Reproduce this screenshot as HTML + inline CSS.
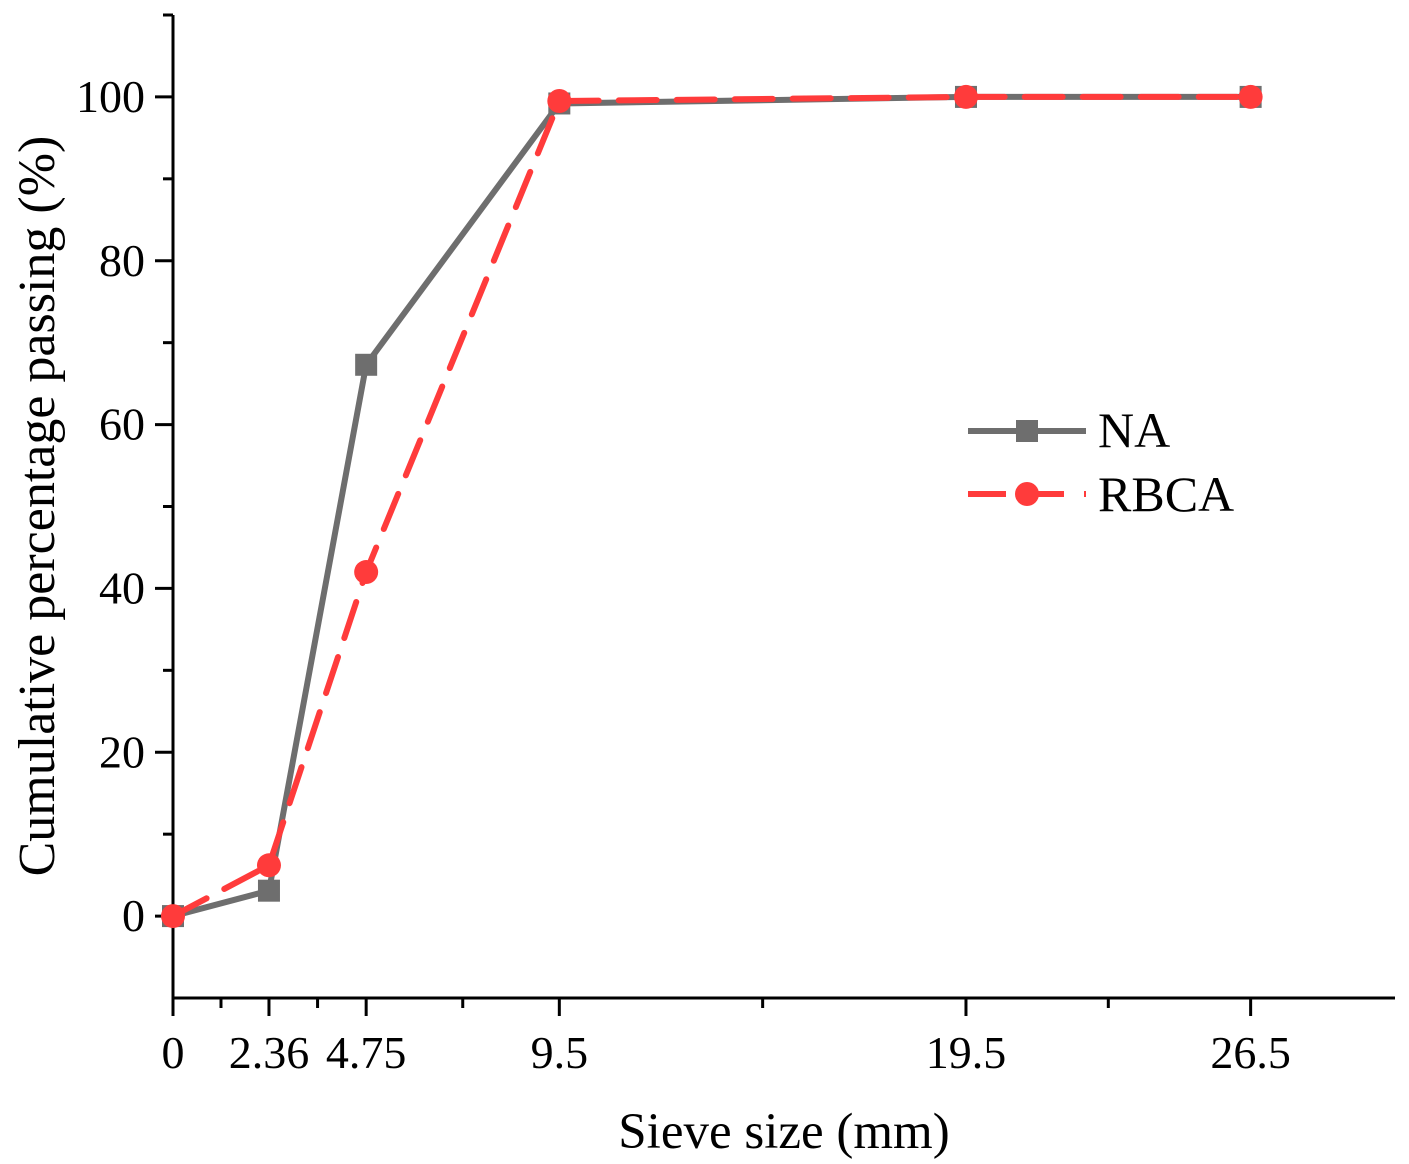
<!DOCTYPE html>
<html><head><meta charset="utf-8"><style>
html,body{margin:0;padding:0;background:#fff;}
svg{display:block;font-family:"Liberation Serif",serif;}
</style></head><body>
<svg id="chart" width="1409" height="1164">
<g id="axes"></g>
<g id="series"></g>
<g>
<g>
<line x1="968" y1="431" x2="1086" y2="431" stroke="#6e6e6e" stroke-width="6"/>
<rect x="1016" y="420" width="22" height="22" fill="#6e6e6e"/>
<text x="1098" y="447" font-size="50">NA</text></g>
<g>
<line x1="968" y1="494" x2="1086" y2="494" stroke="#ff3b3b" stroke-width="6" stroke-dasharray="38,20"/>
<circle cx="1027" cy="494" r="12" fill="#ff3b3b"/>
<text x="1098" y="511" font-size="50">RBCA</text></g>
</g>
<text x="784" y="1148" font-size="51" text-anchor="middle">Sieve size (mm)</text>
<text transform="translate(54,506) rotate(-90)" font-size="52" text-anchor="middle">Cumulative percentage passing (%)</text>
</svg>
<script>
const xTicks=[0,2.36,4.75,9.5,19.5,26.5];
const xTickLabels=["0","2.36","4.75","9.5","19.5","26.5"];
const yTicks=[0,20,40,60,80,100];
const sieve=[0,2.36,4.75,9.5,19.5,26.5];
const naValues=[0,3.1,67.3,99.2,100,100];
const rbcaValues=[0,6.2,42,99.5,100,100];
const NS="http://www.w3.org/2000/svg";
const X0=173,X1=1395,Y0=998,Y1=15;
const xMin=0,xMax=30.05,yMin=-10,yMax=110;
function xs(v){return X0+(v-xMin)/(xMax-xMin)*(X1-X0);}
function ys(v){return Y0-(v-yMin)/(yMax-yMin)*(Y0-Y1);}
function mk(tag,attrs,parent){const e=document.createElementNS(NS,tag);for(const k in attrs)e.setAttribute(k,attrs[k]);parent.appendChild(e);return e;}
const ax=document.getElementById('axes');
let l=mk('line',{x1:X0,y1:Y0,x2:X1,y2:Y0,stroke:'#000','stroke-width':3},ax);


l=mk('line',{x1:X0,y1:Y0+1,x2:X0,y2:Y1,stroke:'#000','stroke-width':3},ax);


xTicks.forEach((v,i)=>{
  const x=xs(v);
  mk('line',{x1:x,y1:Y0,x2:x,y2:Y0+18,stroke:'#000','stroke-width':3},ax);
  const t=mk('text',{x:x,y:1068,'font-size':46,'text-anchor':'middle'},ax);
  t.textContent=xTickLabels[i];
  
  
  if(i<xTicks.length-1){const m=xs((v+xTicks[i+1])/2);
    mk('line',{x1:m,y1:Y0,x2:m,y2:Y0+10,stroke:'#000','stroke-width':3},ax);}
});
for(let v=-10;v<=110;v+=10){
  const y=ys(v);const major=yTicks.includes(v);
  if(v===-10)continue;
  mk('line',{x1:X0,y1:y,x2:X0-(major?18:10),y2:y,stroke:'#000','stroke-width':3},ax);
  if(major){const t=mk('text',{x:145,y:y+15,'font-size':46,'text-anchor':'end'},ax);
    t.textContent=String(v);
    
    }
}
const sg=document.getElementById('series');
const naPts=sieve.map((s,i)=>xs(s)+','+ys(naValues[i])).join(' ');
const naLine=mk('polyline',{points:naPts,fill:'none',stroke:'#6e6e6e','stroke-width':6,'stroke-linejoin':'round'},sg);


sieve.forEach((s,i)=>{const r=mk('rect',{x:xs(s)-11,y:ys(naValues[i])-11,width:22,height:22,fill:'#6e6e6e'},sg);
  
  });
const rbPts=sieve.map((s,i)=>xs(s)+','+ys(rbcaValues[i])).join(' ');
const rbLine=mk('polyline',{points:rbPts,fill:'none',stroke:'#ff3b3b','stroke-width':6,'stroke-dasharray':'38,20','stroke-linecap':'round'},sg);


sieve.forEach((s,i)=>{const c=mk('circle',{cx:xs(s),cy:ys(rbcaValues[i]),r:12,fill:'#ff3b3b'},sg);
  
  });
</script>
</body></html>
